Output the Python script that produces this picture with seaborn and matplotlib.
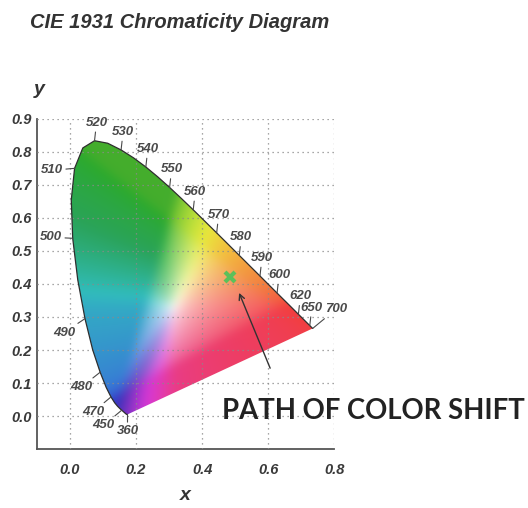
import numpy as np
import matplotlib
import matplotlib.pyplot as plt
from matplotlib.path import Path
from matplotlib.patches import PathPatch
from matplotlib.colors import rgb_to_hsv, hsv_to_rgb
import seaborn as sns

# CIE 1931 2-degree spectral locus (chromaticity x, y)
wavelengths = [360, 385, 390, 395, 400, 405, 410, 415, 420, 425, 430, 435, 440, 445,
               450, 455, 460, 465, 470, 475, 480, 485, 490, 495, 500, 505, 510, 515,
               520, 525, 530, 535, 540, 545, 550, 555, 560, 565, 570, 575, 580, 585,
               590, 595, 600, 605, 610, 615, 620, 625, 630, 635, 640, 645, 650, 655,
               660, 665, 670, 675, 680, 685, 690, 695, 700]
locus_x = [0.1741, 0.1740, 0.1738, 0.1736, 0.1733, 0.1730, 0.1726, 0.1721, 0.1714, 0.1703,
           0.1689, 0.1669, 0.1644, 0.1611, 0.1566, 0.1510, 0.1440, 0.1355, 0.1241, 0.1096,
           0.0913, 0.0687, 0.0454, 0.0235, 0.0082, 0.0039, 0.0139, 0.0389, 0.0743, 0.1142,
           0.1547, 0.1929, 0.2296, 0.2658, 0.3016, 0.3373, 0.3731, 0.4087, 0.4441, 0.4788,
           0.5125, 0.5448, 0.5752, 0.6029, 0.6270, 0.6482, 0.6658, 0.6801, 0.6915, 0.7006,
           0.7079, 0.7140, 0.7190, 0.7230, 0.7260, 0.7283, 0.7300, 0.7311, 0.7320, 0.7327,
           0.7334, 0.7340, 0.7344, 0.7346, 0.7347]
locus_y = [0.0050, 0.0050, 0.0049, 0.0049, 0.0048, 0.0048, 0.0048, 0.0048, 0.0051, 0.0058,
           0.0069, 0.0086, 0.0109, 0.0138, 0.0177, 0.0227, 0.0297, 0.0399, 0.0578, 0.0868,
           0.1327, 0.2007, 0.2950, 0.4127, 0.5384, 0.6548, 0.7502, 0.8120, 0.8338, 0.8262,
           0.8059, 0.7816, 0.7543, 0.7243, 0.6923, 0.6589, 0.6245, 0.5896, 0.5547, 0.5202,
           0.4866, 0.4544, 0.4242, 0.3965, 0.3725, 0.3514, 0.3340, 0.3197, 0.3083, 0.2993,
           0.2920, 0.2859, 0.2809, 0.2770, 0.2740, 0.2717, 0.2700, 0.2689, 0.2680, 0.2673,
           0.2666, 0.2660, 0.2656, 0.2654, 0.2653]

label_wavelengths = [360, 450, 470, 480, 490, 500, 510, 520, 530, 540, 550, 560, 570,
                     580, 590, 600, 620, 650, 700]

# measured point (green cross) and the color shift path
shift_point_x = [0.485]
shift_point_y = [0.420]
arrow_tail = (0.606, 0.145)
arrow_head = (0.512, 0.373)

# label offsets in pixels (x right, y up)
label_offsets = {360: (0, -17), 450: (-18, -15), 470: (-18, -15), 480: (-19, -15),
                 490: (-21, -14), 500: (-22, 1), 510: (-23, -2)}
for wl in [520, 530, 540, 550, 560, 570, 580, 590, 600, 620, 650]:
    label_offsets[wl] = (2, 18)
label_offsets[700] = (23, 19)


def box_blur(img, r, passes=3):
    # separable box blur, repeated to get close to a gaussian
    out = img.copy()
    for _ in range(passes):
        for axis in (0, 1):
            pad = [(0, 0)] * out.ndim
            pad[axis] = (r + 1, r)
            p = np.pad(out, pad, mode='edge')
            c = np.cumsum(p, axis=axis)
            n = out.shape[axis]
            hi = np.take(c, np.arange(2 * r + 1, 2 * r + 1 + n), axis=axis)
            lo = np.take(c, np.arange(0, n), axis=axis)
            out = (hi - lo) / (2 * r + 1)
    return out


sns.set_style('white')
plt.rcParams['font.family'] = ['Liberation Sans', 'DejaVu Sans']
plt.rcParams['font.weight'] = 'bold'
plt.rcParams['font.style'] = 'italic'

fig = plt.figure(figsize=(5.28, 5.08), dpi=100)
ax = fig.add_axes([0.070, 0.116, 0.563, 0.650])

# colour field: xyY -> XYZ -> sRGB, normalised to max channel
gx = np.linspace(-0.1, 0.8, 450)
gy = np.linspace(-0.1, 0.9, 500)
X, Y = np.meshgrid(gx, gy)
Yc = np.clip(Y, 1e-3, None)
XYZ = np.stack([X / Yc, np.ones_like(X), (1 - X - Y) / Yc], axis=-1)
M = np.array([[3.2406, -1.5372, -0.4986],
              [-0.9689, 1.8758, 0.0415],
              [0.0557, -0.2040, 1.0570]])
rgb = XYZ @ M.T
rgb = np.clip(rgb, 0, None)
rgb = rgb / np.clip(rgb.max(axis=-1, keepdims=True), 1e-6, None)
rgb = np.clip(rgb ** (1 / 2.2), 0, 1)

# remap towards the printed look: muted greens, bluer cyans, pinker magentas
hsv = rgb_to_hsv(rgb)
h, s, v = hsv[..., 0], hsv[..., 1], hsv[..., 2]
h = np.interp(h, [0.0, 0.08, 0.16, 0.33, 0.42, 0.5, 0.6, 0.72, 0.83, 1.0],
              [0.0, 0.07, 0.14, 0.30, 0.39, 0.53, 0.59, 0.72, 0.93, 1.0])
f = np.interp(h, [0.0, 0.12, 0.2, 0.3, 0.4, 0.5, 0.6, 0.7, 0.9, 1.0],
              [0.95, 0.95, 0.88, 0.68, 0.64, 0.74, 0.84, 0.72, 0.9, 0.95])
s = np.clip(s, 0, 1) ** 0.7
v = v * (1 - s * (1 - f))
s = s * 0.74
rgb = hsv_to_rgb(np.stack([h, s, v], axis=-1))
rgb = np.clip(box_blur(rgb, 6), 0, 1)

poly = np.column_stack([locus_x, locus_y])
patch = PathPatch(Path(np.vstack([poly, poly[:1]]), closed=True), facecolor='none',
                  edgecolor='none', transform=ax.transData)
ax.add_patch(patch)
im = ax.imshow(rgb, origin='lower', extent=[-0.1, 0.8, -0.1, 0.9], aspect='auto',
               interpolation='bilinear', zorder=1)
im.set_clip_path(patch)

sns.lineplot(x=locus_x, y=locus_y, sort=False, estimator=None, color='#2e2e2e',
             linewidth=0.9, ax=ax, zorder=3)

ax.set_xlim(-0.1, 0.8)
ax.set_ylim(-0.1, 0.9)
ax.set_xticks(np.arange(0.0, 0.81, 0.2))
ax.set_xticks(np.arange(-0.1, 0.81, 0.1), minor=True)
ax.set_yticks(np.arange(0.0, 0.91, 0.1))
ax.set_yticks(np.arange(-0.05, 0.91, 0.05), minor=True)
ax.set_xticklabels([f'{v:.1f}' for v in np.arange(0.0, 0.81, 0.2)])
ax.set_yticklabels([f'{v:.1f}' for v in np.arange(0.0, 0.91, 0.1)])
ax.tick_params(which='both', direction='inout', color='#555555', width=1.0)
ax.tick_params(which='major', length=6)
ax.tick_params(which='minor', length=5)
ax.tick_params(axis='x', which='major', pad=7, labelsize=10.5, labelcolor='#3a3a3a')
ax.tick_params(axis='y', which='major', pad=1, labelsize=10.5, labelcolor='#3a3a3a')
for lab in ax.get_xticklabels() + ax.get_yticklabels():
    lab.set_fontweight('bold')
    lab.set_fontstyle('italic')

ax.grid(True, which='major', linestyle=(0, (1, 3)), color='#8a8a8a', linewidth=0.9, zorder=2)
ax.set_axisbelow(False)
for side in ['top', 'right']:
    ax.spines[side].set_visible(False)
for side in ['left', 'bottom']:
    ax.spines[side].set_color('#555555')
    ax.spines[side].set_linewidth(1.3)

# wavelength labels
for wl in label_wavelengths:
    i = wavelengths.index(wl)
    ax.annotate(str(wl), xy=(locus_x[i], locus_y[i]), xytext=label_offsets[wl],
                textcoords='offset pixels', ha='center', va='center', fontsize=9.5,
                color='#4a4a4a', fontweight='bold', fontstyle='italic', zorder=4,
                arrowprops=dict(arrowstyle='-', color='#4a4a4a', lw=0.8,
                                shrinkA=0, shrinkB=0))

ax.plot(shift_point_x, shift_point_y, marker='x', linestyle='none', color='#5cc05a',
        markersize=7, markeredgewidth=3, zorder=5)
ax.annotate('', xy=arrow_head, xytext=arrow_tail,
            arrowprops=dict(arrowstyle='->', color='#333333', lw=1.0,
                            shrinkA=0, shrinkB=0), zorder=5)

fig.text(30 / 528, 1 - 22 / 508, 'CIE 1931 Chromaticity Diagram', fontsize=14.5,
         fontweight='bold', fontstyle='italic', color='#333333', va='center', ha='left')
fig.text(39 / 528, 1 - 89 / 508, 'y', fontsize=14, fontweight='bold', fontstyle='italic',
         color='#333333', ha='center', va='center')
fig.text(185 / 528, 1 - 496 / 508, 'x', fontsize=14, fontweight='bold', fontstyle='italic',
         color='#333333', ha='center', va='center')
fig.text(222 / 528, 1 - 411 / 508, 'PATH OF COLOR SHIFT', fontsize=19.8, family='Lato',
         fontweight='bold', fontstyle='normal', color='#222222', ha='left', va='center')

fig.savefig('out.png', dpi=100)
